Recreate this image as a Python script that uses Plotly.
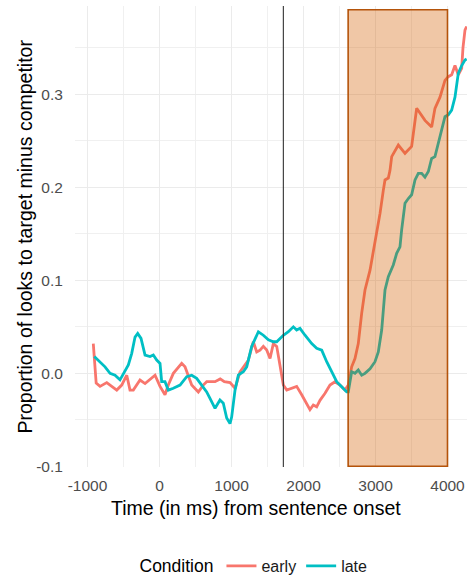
import plotly.graph_objects as go

# ---- data ----
early_t = [-920, -880, -826, -733, -594, -525, -455, -410, -364, -271, -201, -132, -62, 7, 76, 122, 192, 308, 354,
           447, 539, 608, 655, 771, 843, 900, 980, 1049, 1118, 1233, 1303, 1350, 1396, 1442, 1489, 1535, 1581, 1628,
           1674, 1720, 1767, 1836, 1905, 1975, 2021, 2090, 2136, 2183, 2229, 2299, 2368, 2437, 2507, 2576, 2622,
           2669, 2715, 2761, 2808, 2854, 2924, 2993, 3063, 3109, 3132, 3178, 3201, 3225, 3317, 3410, 3502, 3572,
           3687, 3780, 3826, 3896, 3965, 4011, 4058, 4104, 4150, 4197, 4215, 4243, 4266]
early_v = [0.032, -0.0105, -0.014, -0.010, -0.018, -0.0126, -0.002, -0.018, -0.018, -0.0072, -0.011, -0.007, -0.002,
           -0.014, -0.023, -0.0126, 0.0, 0.0107, 0.007, -0.0126, -0.02, -0.0126, -0.009, -0.009, -0.006, -0.009,
           -0.01, -0.016, 0.0017, 0.014, 0.034, 0.023, 0.025, 0.029, 0.025, 0.016, 0.032, 0.029, 0.007, -0.0126,
           -0.018, -0.016, -0.014, -0.023, -0.029, -0.039, -0.034, -0.036, -0.029, -0.0215, -0.0126, -0.009,
           -0.0126, -0.018, -0.0126, 0.007, 0.016, 0.032, 0.0645, 0.0896, 0.111, 0.14, 0.172, 0.197, 0.208, 0.21,
           0.218, 0.233, 0.2455, 0.2366, 0.244, 0.285, 0.272, 0.265, 0.285, 0.297, 0.315, 0.319, 0.321, 0.331,
           0.321, 0.328, 0.35, 0.369, 0.373]

late_t = [-906, -826, -757, -687, -618, -549, -502, -433, -386, -340, -303, -257, -201, -132, -86, -39, 7, 30, 76,
          122, 192, 285, 378, 447, 516, 586, 655, 701, 771, 840, 886, 933, 979, 1002, 1049, 1095, 1164, 1211, 1280,
          1373, 1442, 1512, 1581, 1628, 1720, 1790, 1859, 1905, 1951, 2021, 2114, 2183, 2253, 2322, 2391, 2461,
          2530, 2600, 2622, 2650, 2669, 2715, 2761, 2808, 2854, 2924, 2993, 3039, 3086, 3109, 3132, 3178, 3247,
          3294, 3340, 3363, 3410, 3456, 3502, 3549, 3595, 3641, 3687, 3734, 3780, 3826, 3872, 3919, 3965, 4011,
          4058, 4104, 4150, 4197, 4243, 4266]
late_v = [0.018, 0.0125, 0.007, 0.0, -0.002, -0.007, 0.0, 0.009, 0.0215, 0.039, 0.043, 0.0376, 0.0197, 0.018,
          0.0197, 0.0143, 0.0107, -0.009, -0.009, -0.018, -0.016, -0.0126, -0.0036, -0.002, -0.0054, -0.0126,
          -0.02, -0.027, -0.0376, -0.0287, -0.032, -0.048, -0.054, -0.047, -0.018, -0.002, 0.0017, 0.007, 0.029,
          0.0447, 0.041, 0.036, 0.034, 0.034, 0.041, 0.0447, 0.050, 0.0466, 0.0484, 0.041, 0.032, 0.027, 0.025,
          0.0125, 0.0017, -0.009, -0.0144, -0.02, -0.02, -0.005, 0.0017, 0.0, 0.0036, -0.002, 0.0, 0.005, 0.0125,
          0.023, 0.0466, 0.068, 0.0896, 0.104, 0.1165, 0.129, 0.136, 0.154, 0.183, 0.188, 0.192, 0.208, 0.215,
          0.215, 0.211, 0.217, 0.231, 0.233, 0.247, 0.262, 0.276, 0.278, 0.283, 0.297, 0.3226, 0.331, 0.337, 0.338]

x_ticks = [-1000, 0, 1000, 2000, 3000, 4000]
y_ticks = [-0.1, 0.0, 0.1, 0.2, 0.3]
y_tick_labels = ["-0.1", "0.0", "0.1", "0.2", "0.3"]
vline_x = 1720
window_start, window_end = 2620, 4000
window_ymin, window_ymax = -0.1, 0.391

FONT = "Liberation Sans, Arial, sans-serif"

fig = go.Figure()
fig.add_trace(go.Scatter(x=early_t, y=early_v, mode="lines", name="early",
                         line=dict(color="#F8766D", width=2.8)))
fig.add_trace(go.Scatter(x=late_t, y=late_v, mode="lines", name="late",
                         line=dict(color="#00BFC4", width=2.8)))

fig.add_shape(type="line", x0=vline_x, x1=vline_x, y0=0, y1=1, xref="x", yref="paper",
              line=dict(color="#333333", width=1.1), layer="above")
fig.add_shape(type="rect", x0=window_start, x1=window_end, y0=window_ymin, y1=window_ymax,
              xref="x", yref="y", fillcolor="rgba(213,94,0,0.35)",
              line=dict(color="#B4530A", width=1.6), layer="above")

fig.update_layout(
    width=467, height=575,
    margin=dict(l=75, r=0, t=6, b=108, autoexpand=False),
    paper_bgcolor="white", plot_bgcolor="white",
    font=dict(family=FONT, color="#4D4D4D"),
    showlegend=True,
    legend=dict(orientation="h", xref="paper", yref="paper", x=(255 - 75) / 392, y=-(566 - 467) / 461,
                xanchor="center", yanchor="middle",
                title=dict(text="Condition", font=dict(size=17.5, color="black"), side="left"),
                font=dict(size=16, color="#1a1a1a"), itemwidth=30, tracegroupgap=0),
    xaxis=dict(range=[-1174, 4271], tickvals=x_ticks, ticktext=[str(v) for v in x_ticks],
               automargin=False,
               showgrid=True, gridcolor="#EBEBEB", gridwidth=1.1,
               minor=dict(dtick=500, tick0=-500, showgrid=True, gridcolor="#F0F0F0", gridwidth=0.8),
               zeroline=False, showline=False,
               ticks="outside", ticklen=4, tickcolor="rgba(0,0,0,0)",
               tickfont=dict(size=15.5, color="#4D4D4D")),
    yaxis=dict(range=[-0.1007, 0.395], tickvals=y_ticks, ticktext=y_tick_labels,
               automargin=False,
               showgrid=True, gridcolor="#EBEBEB", gridwidth=1.1,
               minor=dict(dtick=0.05, tick0=-0.05, showgrid=True, gridcolor="#F0F0F0", gridwidth=0.8),
               zeroline=False, showline=False,
               ticks="outside", ticklen=8, tickcolor="rgba(0,0,0,0)",
               tickfont=dict(size=15.5, color="#4D4D4D")),
    annotations=[
        dict(text="Time (in ms) from sentence onset", xref="paper", yref="paper",
             x=(256 - 75) / 392, y=-(508 - 467) / 461, xanchor="center", yanchor="middle",
             showarrow=False, font=dict(size=19.5, color="black", family=FONT)),
        dict(text="Proportion of looks to target minus competitor", xref="paper", yref="paper",
             x=-(75 - 24) / 392, y=0.5, xanchor="center", yanchor="middle", textangle=-90,
             showarrow=False, font=dict(size=19.5, color="black", family=FONT)),
    ],
)

fig.write_html("out.html", config={"displayModeBar": False},
               post_script="document.body.style.margin='0';document.body.style.overflow='hidden';")
